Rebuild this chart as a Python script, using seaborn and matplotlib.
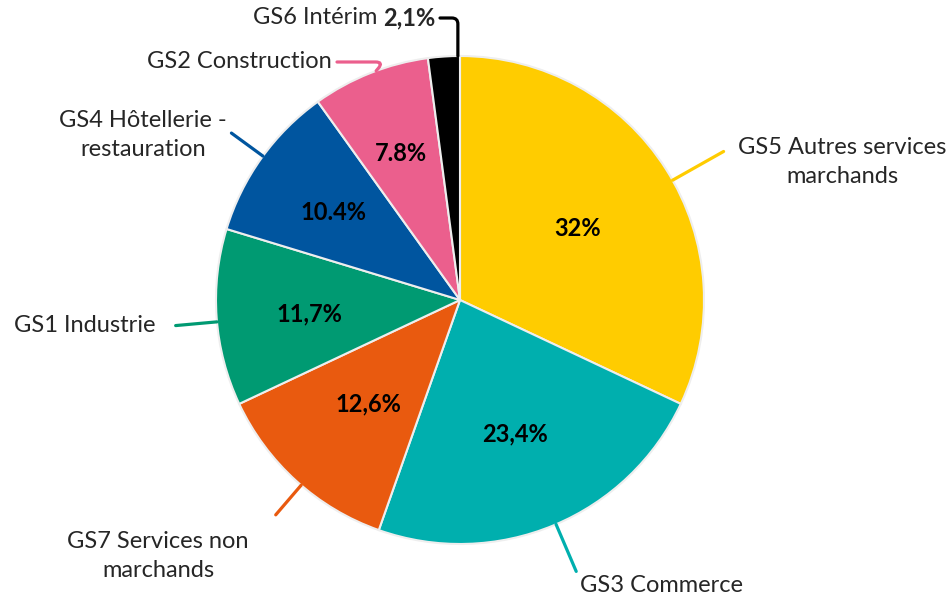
import numpy as np
import matplotlib
matplotlib.use("Agg")
import matplotlib.pyplot as plt
import seaborn as sns

sns.set_theme(style="white")
plt.rcParams['font.family'] = ['Lato', 'DejaVu Sans']

# Data
categories = ["GS5 Autres services\nmarchands", "GS3 Commerce", "GS7 Services non\nmarchands",
              "GS1 Industrie", "GS4 Hôtellerie -\nrestauration", "GS2 Construction", "GS6 Intérim"]
values = [32.0, 23.4, 12.6, 11.7, 10.4, 7.8, 2.1]
pct_labels = ["32%", "23,4%", "12,6%", "11,7%", "10.4%", "7.8%", "2,1%"]
colors = ["#FFCC00", "#00AFAE", "#E95A0F", "#009A72", "#00559F", "#EB5F8D", "#000000"]

W, H = 951, 601
fig = plt.figure(figsize=(W / 100, H / 100), dpi=100)
ax = fig.add_axes([0, 0, 1, 1])

def P(px, py):
    return (px, H - py)

cx, cy = 460, 300
R = 244
wedges, _ = ax.pie(values, colors=colors, startangle=90, counterclock=False,
                   center=P(cx, cy), radius=R,
                   wedgeprops=dict(edgecolor="#eeeeee", linewidth=1.5))
ax.set_xlim(0, W)
ax.set_ylim(0, H)
ax.set_aspect('equal')
ax.axis('off')

mids = [np.deg2rad((w.theta1 + w.theta2) / 2) for w in wedges]

def polar(a, r, dy=0):
    return (cx + r * np.cos(a), H - (cy - r * np.sin(a)) - dy)

# percentage labels inside
pct_r = [0.57, 0.58, 0.56, 0.62, 0.64, 0.66]
for i in range(6):
    ax.text(*polar(mids[i], R * pct_r[i], dy=3), pct_labels[i], ha='center', va='center',
            fontsize=17, fontweight='bold', color='black')

# radial leaders
lw = 2.3
out_r = [1.24, 1.21, 1.16, 1.17, 1.16]
ang_off = [-3.0, 0.5, 1.5, 1.0, -0.5]
for i in range(5):
    a = mids[i] + np.deg2rad(ang_off[i])
    ax.annotate("", xy=polar(a, R), xytext=polar(a, R * out_r[i]),
                arrowprops=dict(arrowstyle='-', color=colors[i], lw=lw, shrinkA=0, shrinkB=0))

# GS2 curved leader
ax.annotate("", xy=polar(mids[5] - np.deg2rad(1.5), R), xytext=P(337, 62),
            arrowprops=dict(arrowstyle='-', color=colors[5], lw=lw, shrinkA=0, shrinkB=0,
                            connectionstyle="angle,angleA=0,angleB=50,rad=8"))
# GS6 leader
ax.annotate("", xy=polar(np.deg2rad(90.5), R), xytext=P(440, 18),
            arrowprops=dict(arrowstyle='-', color=colors[6], lw=lw, shrinkA=0, shrinkB=0,
                            connectionstyle="angle,angleA=0,angleB=90,rad=6"))

fs = 17
ls = 1.45
ax.text(*P(842, 162), categories[0], ha='center', va='center', fontsize=fs, linespacing=ls)
ax.text(*P(662, 585), categories[1], ha='center', va='center', fontsize=fs)
ax.text(*P(158, 556), categories[2], ha='center', va='center', fontsize=fs, linespacing=ls)
ax.text(*P(155, 325), categories[3], ha='right', va='center', fontsize=fs)
ax.text(*P(143, 135), categories[4], ha='center', va='center', fontsize=fs, linespacing=ls)
ax.text(*P(332, 62), categories[5], ha='right', va='center', fontsize=fs)
ax.text(*P(377, 18), categories[6], ha='right', va='center', fontsize=fs)
ax.text(*P(383, 18), pct_labels[6], ha='left', va='center', fontsize=fs, fontweight='bold')

fig.savefig("out.png", dpi=100, facecolor='white')
